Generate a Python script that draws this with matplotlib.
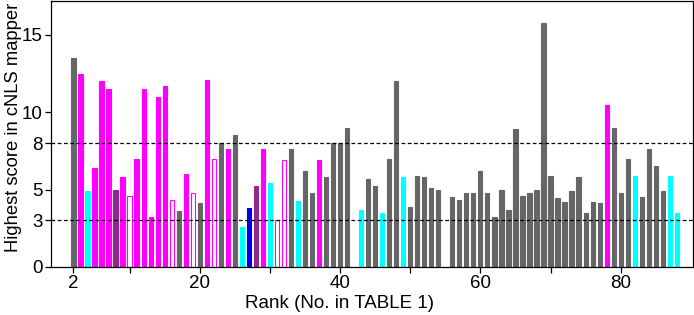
import matplotlib
matplotlib.use('Agg')
import numpy as np
import matplotlib.pyplot as plt

plt.rcParams['font.family'] = ['Liberation Sans', 'DejaVu Sans']

#-- data: rank, highest score, class of each bar
# classes: g = gray, m = magenta, c = cyan, b = blue, p = purple, o = magenta outline
ranks = [2, 3, 4, 5, 6, 7, 8, 9, 10, 11, 12, 13, 14, 15,
         16, 17, 18, 19, 20, 21, 22, 23, 24, 25, 26, 27, 28, 29, 30,
         31, 32, 33, 34, 35, 36, 37, 38, 39, 40, 41, 43, 44,
         45, 46, 47, 48, 49, 50, 51, 52, 53, 54, 56, 57, 58, 59,
         60, 61, 62, 63, 64, 65, 66, 67, 68, 69, 70, 71, 72, 73, 74,
         75, 76, 77, 78, 79, 80, 81, 82, 83, 84, 85, 86, 87, 88]
scores = [13.5, 12.5, 4.9, 6.4, 12.0, 11.5, 5.0, 5.8, 4.6, 7.0, 11.5, 3.2, 11.0, 11.7,
          4.3, 3.6, 6.0, 4.8, 4.1, 12.1, 7.0, 8.0, 7.6, 8.5, 2.6, 3.8, 5.2, 7.6, 5.4,
          3.0, 6.9, 7.6, 4.25, 6.2, 4.8, 6.9, 5.8, 8.0, 8.0, 9.0, 3.7, 5.7,
          5.2, 3.5, 7.0, 12.0, 5.8, 3.9, 5.9, 5.8, 5.1, 5.0, 4.5, 4.3, 4.75, 4.75,
          6.2, 4.75, 3.2, 5.0, 3.7, 8.9, 4.6, 4.75, 5.0, 15.8, 5.9, 4.45, 4.2, 4.9, 5.8,
          3.5, 4.2, 4.1, 10.5, 9.0, 4.8, 7.0, 5.9, 4.5, 7.6, 6.5, 4.9, 5.9, 3.5]
kinds = ['g', 'm', 'c', 'm', 'm', 'm', 'p', 'm', 'o', 'm', 'm', 'm', 'm', 'm',
         'o', 'g', 'm', 'o', 'g', 'm', 'o', 'g', 'm', 'g', 'c', 'b', 'p', 'm', 'c',
         'o', 'o', 'g', 'c', 'g', 'g', 'm', 'g', 'g', 'g', 'g', 'c', 'g',
         'g', 'c', 'g', 'g', 'c', 'g', 'g', 'g', 'g', 'g', 'g', 'g', 'g', 'g',
         'g', 'g', 'g', 'g', 'g', 'g', 'g', 'g', 'g', 'g', 'g', 'g', 'g', 'g', 'g',
         'g', 'g', 'g', 'm', 'g', 'g', 'g', 'c', 'g', 'g', 'g', 'g', 'c', 'c']
thresholds = [3, 8]
yticks = [0, 3, 5, 8, 10, 15]
xticks = [2, 10, 20, 30, 40, 50, 60, 70, 80]
xticklabels = ['2', '', '20', '', '40', '', '60', '', '80']

fills = {'g': '#666666', 'm': '#ff00ff', 'c': '#00ffff', 'b': '#0000ee',
         'p': '#8e2a8c', 'o': 'white'}
edges = {'g': '#666666', 'm': '#ff00ff', 'c': '#00ffff', 'b': '#0000ee',
         'p': '#8e2a8c', 'o': '#ff00ff'}

#============================================================================

fig = plt.figure(figsize=(6.94, 3.15), dpi=100)
ax = fig.add_axes([0.0735, 0.153, 0.925, 0.844])

ax.bar(ranks, scores, width=0.6,
       color=[fills[k] for k in kinds],
       edgecolor=[edges[k] for k in kinds],
       linewidth=0.8, zorder=2)

for t in thresholds:
  ax.axhline(t, color='black', linestyle=(0, (3, 2)), linewidth=0.9, zorder=3)

ax.set_xlim(-1.2, 90.3)
ax.set_ylim(0, 17.2)
ax.set_yticks(yticks)
ax.set_xticks(xticks)
ax.set_xticklabels(xticklabels)
ax.tick_params(direction='out', length=4, width=0.9, labelsize=13.5, pad=2)

for sp in ax.spines.values():
  sp.set_linewidth(0.9)

ax.set_xlabel('Rank (No. in TABLE 1)', size=13.5)
ax.set_ylabel('Highest score in cNLS mapper', size=13.2)
ax.xaxis.set_label_coords(0.45, -0.105)
ax.yaxis.set_label_coords(-0.045, 0.524)

fig.savefig('out.png', dpi=100)
